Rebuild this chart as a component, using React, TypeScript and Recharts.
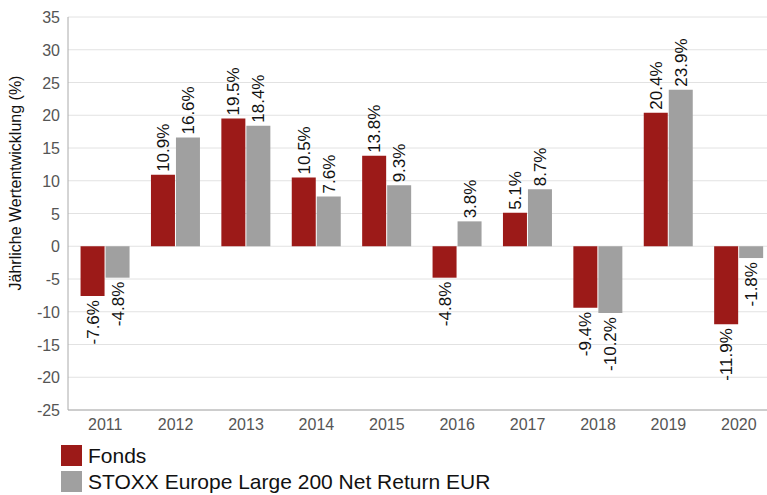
import { Bar, BarChart, CartesianGrid, LabelList, XAxis, YAxis } from "recharts"

const years = ["2011", "2012", "2013", "2014", "2015", "2016", "2017", "2018", "2019", "2020"]
const fonds = [-7.6, 10.9, 19.5, 10.5, 13.8, -4.8, 5.1, -9.4, 20.4, -11.9]
const stoxx = [-4.8, 16.6, 18.4, 7.6, 9.3, 3.8, 8.7, -10.2, 23.9, -1.8]
const yTicks = [-25, -20, -15, -10, -5, 0, 5, 10, 15, 20, 25, 30, 35]

const data = years.map((year, i) => ({ year, fonds: fonds[i], stoxx: stoxx[i] }))

const FONT = "Arial, 'Liberation Sans', sans-serif"
const RED = "#9c1a18"
const GREY = "#a0a0a0"

// rotated value label, above positive bars and below negative ones
function ValueLabel(props: any) {
  const { x, y, width, height, value } = props
  const cx = x + width / 2 + 6
  const top = Math.min(y, y + height)
  const bottom = Math.max(y, y + height)
  const neg = value < 0
  const ty = neg ? bottom + 4 : top - 3
  return (
    <text
      x={cx}
      y={ty}
      transform={`rotate(-90 ${cx} ${ty})`}
      textAnchor={neg ? "end" : "start"}
      fontSize={17}
      fontFamily={FONT}
      fill="#111"
    >
      {value.toFixed(1)}%
    </text>
  )
}

function AxisTitle() {
  const cx = 15
  const cy = 183
  return (
    <text
      x={cx}
      y={cy}
      transform={`rotate(-90 ${cx} ${cy})`}
      textAnchor="middle"
      dominantBaseline="central"
      fontSize={16}
      fontFamily={FONT}
      fill="#111"
    >
      Jährliche Wertentwicklung (%)
    </text>
  )
}

function XTick(props: any) {
  const { x, y, payload } = props
  return (
    <text x={x} y={y + 12} textAnchor="middle" fontSize={16} fontFamily={FONT} fill="#555">
      {payload.value}
    </text>
  )
}

function YTick(props: any) {
  const { x, y, payload } = props
  return (
    <text x={x} y={y + 6} textAnchor="end" fontSize={16} fontFamily={FONT} fill="#555">
      {payload.value}
    </text>
  )
}

export default function App() {
  return (
    <div
      style={{
        position: "absolute",
        left: 0,
        top: 0,
        width: 767,
        height: 495,
        overflow: "hidden",
        background: "#fff",
        fontFamily: FONT,
      }}
    >
      <BarChart
        width={774}
        height={495}
        data={data}
        margin={{ top: 17, right: 0, left: 0, bottom: 60 }}
        barGap={1}
        barCategoryGap="15%"
      >
        <CartesianGrid vertical={false} stroke="#e2e2e2" />
        <XAxis
          dataKey="year"
          height={25}
          padding={{ left: 2, right: 0 }}
          tickLine={false}
          stroke="#aaa"
          tick={<XTick />}
        />
        <YAxis
          width={68}
          domain={[-25, 35]}
          ticks={yTicks}
          tickLine={false}
          stroke="#aaa"
          tick={<YTick />}
          label={<AxisTitle />}
        />
        <Bar dataKey="fonds" fill={RED} isAnimationActive={false}>
          <LabelList dataKey="fonds" content={ValueLabel} />
        </Bar>
        <Bar dataKey="stoxx" fill={GREY} isAnimationActive={false}>
          <LabelList dataKey="stoxx" content={ValueLabel} />
        </Bar>
      </BarChart>
      <div style={{ position: "absolute", left: 61, top: 445, fontSize: 21, color: "#111", lineHeight: "21px" }}>
        <div style={{ display: "flex", alignItems: "center", height: 21, marginBottom: 5 }}>
          <span style={{ width: 21, height: 21, background: RED, marginRight: 6 }} />
          Fonds
        </div>
        <div style={{ display: "flex", alignItems: "center", height: 21 }}>
          <span style={{ width: 21, height: 21, background: GREY, marginRight: 6 }} />
          STOXX Europe Large 200 Net Return EUR
        </div>
      </div>
    </div>
  )
}
